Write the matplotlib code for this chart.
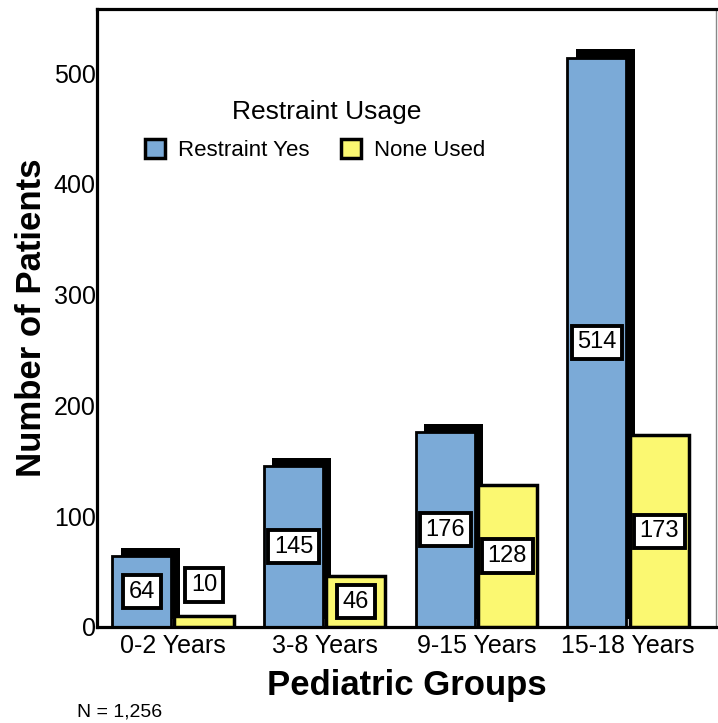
import numpy as np
import matplotlib
matplotlib.use('Agg')
import matplotlib.pyplot as plt
import matplotlib.patheffects as pe
from matplotlib.patches import Patch

plt.rcParams['font.family'] = ['Liberation Sans', 'DejaVu Sans']

groups = ['0-2 Years', '3-8 Years', '9-15 Years', '15-18 Years']
restraint_yes = [64, 145, 176, 514]
none_used = [10, 46, 128, 173]

blue = '#7BAAD7'
yellow = '#FBF871'

fig = plt.figure(figsize=(7.18, 7.23), dpi=100)
ax = fig.add_axes([97 / 718, 1 - 627 / 723, 619 / 718, 618 / 723])

x = np.arange(len(groups))
w = 0.39
off = 0.205

shadow = [pe.SimplePatchShadow(offset=(6, 6), shadow_rgbFace='black', alpha=1.0), pe.Normal()]
b1 = ax.bar(x - off, restraint_yes, w, color=blue, edgecolor='black', linewidth=2, zorder=2)
for p in b1:
    p.set_path_effects(shadow)
b2 = ax.bar(x + off, none_used, w, color=yellow, edgecolor='black', linewidth=2.5, zorder=3)

# value boxes, small bars get the label above the bar
def put_label(xpos, h):
    ypos = h / 2 if h > 30 else h + 28
    ax.text(xpos, ypos, str(h), ha='center', va='center', fontsize=17, zorder=5,
            bbox=dict(boxstyle='square,pad=0.24', facecolor='white', edgecolor='black', linewidth=2.8))

for xi, h in zip(x - off, restraint_yes):
    put_label(xi, h)
for xi, h in zip(x + off, none_used):
    put_label(xi, h)

ax.set_xlim(-0.5, 3.58)
ax.set_ylim(0, 558)
ax.set_yticks([0, 100, 200, 300, 400, 500])
ax.set_xticks(x)
ax.set_xticklabels(groups)
ax.tick_params(axis='both', length=0, labelsize=18)
ax.tick_params(axis='y', pad=1)
ax.tick_params(axis='x', pad=5)

for s in ['left', 'top', 'bottom']:
    ax.spines[s].set_linewidth(2.3)
ax.spines['right'].set_linewidth(1)
ax.spines['right'].set_color('#888888')

ax.set_xlabel('Pediatric Groups', fontsize=25, fontweight='bold', labelpad=8)
ax.set_ylabel('Number of Patients', fontsize=25, fontweight='bold', labelpad=4)

handles = [Patch(facecolor=blue, edgecolor='black', linewidth=2.5, label='Restraint Yes'),
           Patch(facecolor=yellow, edgecolor='black', linewidth=2.5, label='None Used')]
leg = ax.legend(handles=handles, ncol=2, frameon=False,
                loc='center', bbox_to_anchor=((315 - 97) / 619, (627 - 150) / 618), fontsize=16,
                handlelength=0.9, handleheight=0.9,
                handletextpad=0.6, columnspacing=1.4)
ax.text((327 - 97) / 619, (627 - 112) / 618, 'Restraint Usage', transform=ax.transAxes,
        ha='center', va='center', fontsize=19)

fig.text(77 / 718, 1 - 712 / 723, 'N = 1,256', fontsize=14, va='center', ha='left')

fig.savefig('out.png', dpi=100)
